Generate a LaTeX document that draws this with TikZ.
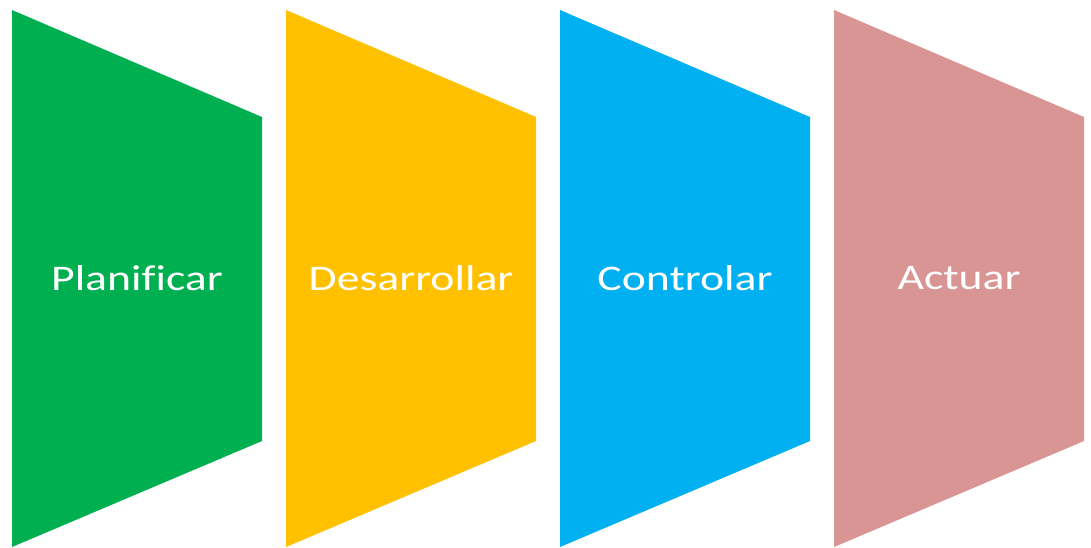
\documentclass[tikz,border=0pt]{standalone}
\usepackage{fontspec}
\setmainfont{Carlito}[Ligatures=NoCommon]
\definecolor{plangreen}{HTML}{00B050}
\definecolor{devyellow}{HTML}{FFC000}
\definecolor{ctrlblue}{HTML}{00B0F0}
\definecolor{actpink}{HTML}{D99594}

\begin{document}
\begin{tikzpicture}[x=1pt, y=-1pt,
  stage/.style={fill=#1, draw=none},
  lbl/.style={text=white, font=\fontsize{36}{40}\selectfont, xscale=1.27, transform shape}
]
\useasboundingbox (0,0) rectangle (1091,547);
\foreach \x/\c/\t/\n in {12/plangreen/Planificar/plan, 286/devyellow/Desarrollar/dev, 560/ctrlblue/Controlar/ctrl, 834/actpink/Actuar/act}{
  \fill[stage=\c] (\x,10) -- (\x+250,117) -- (\x+250,441) -- (\x,547) -- cycle;
  \node[lbl] (\n) at (\x+125,278) {\t};
}
\end{tikzpicture}
\end{document}
